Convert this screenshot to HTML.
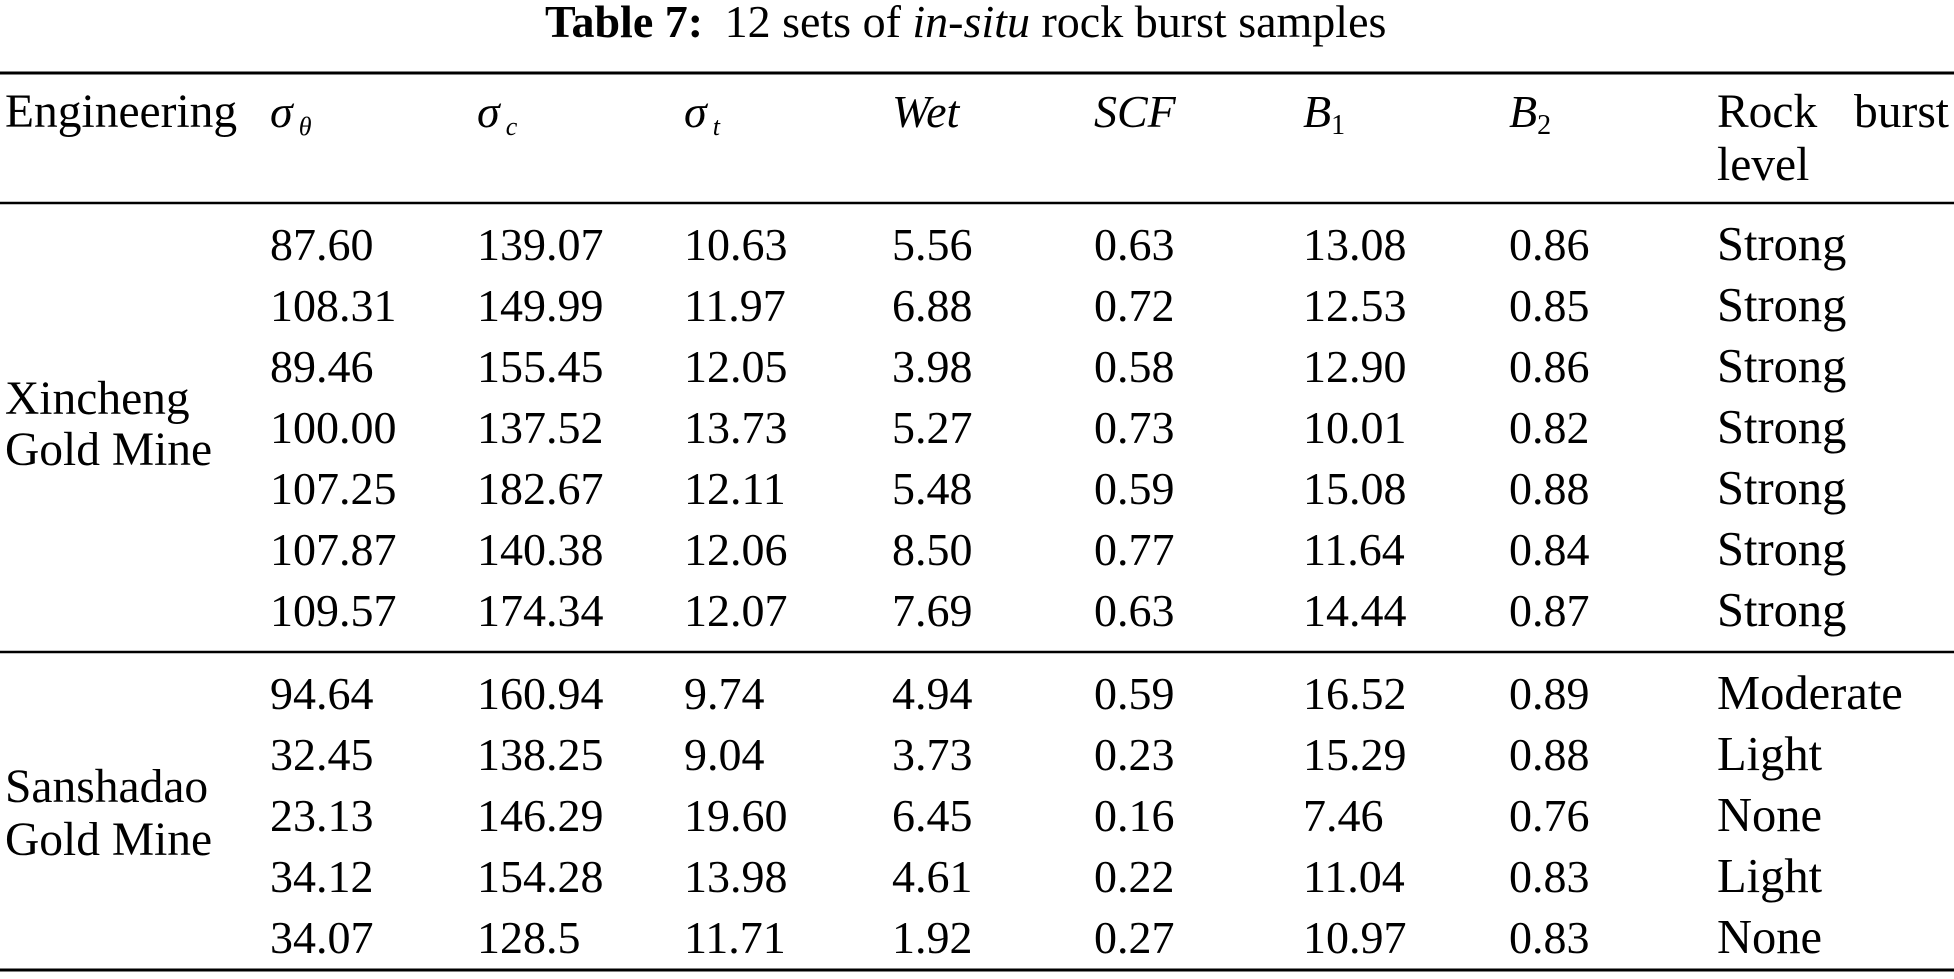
<!DOCTYPE html>
<html><head><meta charset="utf-8">
<style>
html,body{margin:0;padding:0;background:#fff;}
svg{display:block;}
text{font-family:"Liberation Serif",serif;fill:#000;}
</style></head>
<body>
<svg id="t" width="1954" height="979" viewBox="0 0 1954 979" xmlns="http://www.w3.org/2000/svg">
<text x="545" y="37" font-size="46"><tspan font-weight="bold">Table 7:</tspan><tspan dx="10"> 12 sets of </tspan><tspan font-style="italic">in-situ</tspan> rock burst samples</text>
<line x1="0" x2="1954" y1="73" y2="73" stroke="#000" stroke-width="3"/>
<line x1="0" x2="1954" y1="203" y2="203" stroke="#000" stroke-width="2.5"/>
<line x1="0" x2="1954" y1="652" y2="652" stroke="#000" stroke-width="2.5"/>
<line x1="0" x2="1954" y1="970" y2="970" stroke="#000" stroke-width="3"/>
<g font-size="46">
<text x="5" y="127" font-size="47.5">Engineering</text>
<text x="270" y="127" font-style="italic">σ<tspan font-size="26" dx="6" dy="8">θ</tspan></text>
<text x="477" y="127" font-style="italic">σ<tspan font-size="26" dx="6" dy="8">c</tspan></text>
<text x="684" y="127" font-style="italic">σ<tspan font-size="26" dx="6" dy="8">t</tspan></text>
<text x="892" y="127" font-style="italic">Wet</text>
<text x="1094" y="127" font-style="italic">SCF</text>
<text x="1303" y="127"><tspan font-style="italic">B</tspan><tspan font-size="28" dy="7">1</tspan></text>
<text x="1509" y="127"><tspan font-style="italic">B</tspan><tspan font-size="28" dy="7">2</tspan></text>
<text x="1717" y="127" font-size="47.5">Rock</text>
<text x="1949" y="127" font-size="47.5" text-anchor="end">burst</text>
<text x="1717" y="180" font-size="47.5">level</text>
</g>
<g font-size="47.5">
<text x="5" y="414">Xincheng</text>
<text x="5" y="465">Gold Mine</text>
<text x="5" y="802">Sanshadao</text>
<text x="5" y="855">Gold Mine</text>
</g>
<g id="body" font-size="46"></g>
</svg>
<script>
const rows = [
["87.60","139.07","10.63","5.56","0.63","13.08","0.86","Strong"],
["108.31","149.99","11.97","6.88","0.72","12.53","0.85","Strong"],
["89.46","155.45","12.05","3.98","0.58","12.90","0.86","Strong"],
["100.00","137.52","13.73","5.27","0.73","10.01","0.82","Strong"],
["107.25","182.67","12.11","5.48","0.59","15.08","0.88","Strong"],
["107.87","140.38","12.06","8.50","0.77","11.64","0.84","Strong"],
["109.57","174.34","12.07","7.69","0.63","14.44","0.87","Strong"],
["94.64","160.94","9.74","4.94","0.59","16.52","0.89","Moderate"],
["32.45","138.25","9.04","3.73","0.23","15.29","0.88","Light"],
["23.13","146.29","19.60","6.45","0.16","7.46","0.76","None"],
["34.12","154.28","13.98","4.61","0.22","11.04","0.83","Light"],
["34.07","128.5","11.71","1.92","0.27","10.97","0.83","None"]
];
const colX=[270,477,684,892,1094,1303,1509,1717];
const baseY=[260,321,382,443,504,565,626,709,770,831,892,953];
const body=document.getElementById('body');
rows.forEach((r,i)=>{
  r.forEach((v,j)=>{
    const t=document.createElementNS('http://www.w3.org/2000/svg','text');
    t.setAttribute('x',colX[j]);
    t.setAttribute('y',baseY[i]);
    if(j===7) t.setAttribute('font-size','48.5');
    t.textContent=v;
    
    
    body.appendChild(t);
  });
});
</script>
</body></html>
